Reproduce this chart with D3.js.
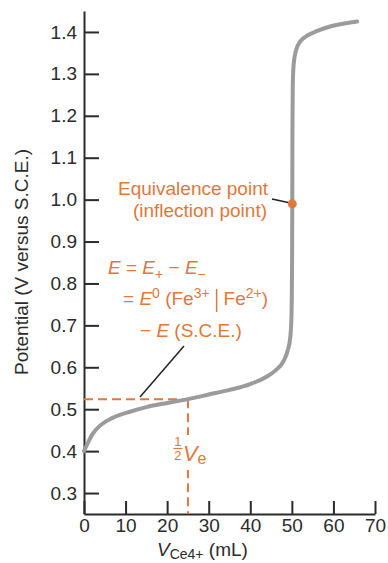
<!DOCTYPE html>
<html>
<head>
<meta charset="utf-8">
<script src="https://cdn.jsdelivr.net/npm/d3@7"></script>
<style>
  body { margin: 0; background: #fff; }
  svg { display: block; font-family: "Liberation Sans", Arial, sans-serif; }
</style>
</head>
<body>
<div id="chart"></div>
<script>
'use strict';

// titration curve: volume of Ce4+ (mL) and potential (V)
let volumes = [0, 1, 2, 4, 7, 11, 15, 20, 25, 30, 35, 40, 44, 46, 48, 49, 49.6, 49.9, 50.05, 50.1, 50.15, 50.22, 50.35, 50.55, 50.85, 51.3, 52, 53.2, 55.1, 59.2, 65.7];
let potentials = [0.40, 0.421, 0.440, 0.462, 0.480, 0.494, 0.505, 0.515, 0.524, 0.535, 0.546, 0.560, 0.578, 0.592, 0.615, 0.640, 0.670, 0.720, 0.85, 1.00, 1.18, 1.270, 1.310, 1.333, 1.350, 1.365, 1.377, 1.388, 1.398, 1.413, 1.425];

let yTicks = [0.3, 0.4, 0.5, 0.6, 0.7, 0.8, 0.9, 1.0, 1.1, 1.2, 1.3, 1.4];
let xTicks = [0, 10, 20, 30, 40, 50, 60, 70];

let equivalencePoint = [50.1, 0.99];
let halfPoint = [25, 0.524];

let width = 388,
    height = 563;
let orange = '#e0783c',
    ink = '#2b2b2b',
    fs = '19px';

let x = d3.scaleLinear().domain([0, 70]).range([84, 375]);
let y = d3.scaleLinear().domain([0.25, 1.45]).range([514, 11]);

let svg = d3.select('#chart')
    .append('svg')
    .attr('width', width)
    .attr('height', height);

// axes
let yAxis = svg.append('g')
    .attr('transform', 'translate(' + x(0) + ',0)')
    .call(d3.axisLeft(y)
        .tickValues(yTicks)
        .tickFormat(d3.format('.1f'))
        .tickSizeInner(-15)
        .tickSizeOuter(0)
        .tickPadding(7));

let xAxis = svg.append('g')
    .attr('transform', 'translate(0,' + y(0.25) + ')')
    .call(d3.axisBottom(x)
        .tickValues(xTicks)
        .tickSizeInner(-13)
        .tickSizeOuter(0)
        .tickPadding(5));

[yAxis, xAxis].forEach(function(a) {
    a.selectAll('path, line')
        .attr('stroke', ink)
        .attr('stroke-width', 2);
    a.selectAll('text')
        .attr('fill', ink)
        .style('font-size', fs);
});

// axis titles
svg.append('text')
    .attr('transform', 'translate(28,262) rotate(-90)')
    .attr('text-anchor', 'middle')
    .attr('fill', ink)
    .style('font-size', fs)
    .text('Potential (V versus S.C.E.)');

let xTitle = svg.append('text')
    .attr('x', 157)
    .attr('y', 556)
    .attr('fill', ink)
    .style('font-size', fs);
xTitle.append('tspan').style('font-style', 'italic').text('V');
xTitle.append('tspan').attr('dy', 3).style('font-size', '14px').text('Ce4+');
xTitle.append('tspan').attr('dy', -3).text(' (mL)');

// dashed guides to the half-equivalence point
svg.append('line')
    .attr('x1', x(0)).attr('y1', y(halfPoint[1]))
    .attr('x2', x(halfPoint[0])).attr('y2', y(halfPoint[1]))
    .attr('stroke', orange)
    .attr('stroke-width', 2)
    .attr('stroke-dasharray', '9,5');
svg.append('line')
    .attr('x1', x(halfPoint[0])).attr('y1', y(halfPoint[1]))
    .attr('x2', x(halfPoint[0])).attr('y2', y(0.25))
    .attr('stroke', orange)
    .attr('stroke-width', 2)
    .attr('stroke-dasharray', '9,5');

// 1/2 Ve label, sitting on a white patch over the dashed line
let hx = x(halfPoint[0]);
svg.append('rect')
    .attr('x', hx - 16).attr('y', 435)
    .attr('width', 36).attr('height', 35)
    .attr('fill', '#fff');
let half = svg.append('g').attr('fill', orange);
half.append('text')
    .attr('x', hx - 10).attr('y', 446)
    .attr('text-anchor', 'middle')
    .style('font-size', '13px')
    .text('1');
half.append('line')
    .attr('x1', hx - 14.5).attr('x2', hx - 5.5)
    .attr('y1', 448.5).attr('y2', 448.5)
    .attr('stroke', orange)
    .attr('stroke-width', 1.2);
half.append('text')
    .attr('x', hx - 10).attr('y', 460)
    .attr('text-anchor', 'middle')
    .style('font-size', '13px')
    .text('2');
let ve = half.append('text')
    .attr('x', hx - 5).attr('y', 461);
ve.append('tspan').style('font-style', 'italic').style('font-size', '22px').text('V');
ve.append('tspan').attr('dy', 3).style('font-size', '16px').text('e');

// the titration curve
let line = d3.line()
    .x(function(d, i) {
        return x(volumes[i]);
    })
    .y(function(d) {
        return y(d);
    })
    .curve(d3.curveMonotoneX);

svg.append('path')
    .datum(potentials)
    .attr('d', line)
    .attr('fill', 'none')
    .attr('stroke', '#9b9b9b')
    .attr('stroke-width', 4)
    .attr('stroke-linecap', 'round');

// equivalence point annotation
svg.append('line')
    .attr('x1', 272).attr('y1', 199)
    .attr('x2', x(equivalencePoint[0]) - 3).attr('y2', y(equivalencePoint[1]) - 1)
    .attr('stroke', '#222')
    .attr('stroke-width', 1.5);
svg.append('circle')
    .attr('cx', x(equivalencePoint[0]))
    .attr('cy', y(equivalencePoint[1]))
    .attr('r', 4.5)
    .attr('fill', orange);

let eqLabel = svg.append('text')
    .attr('text-anchor', 'end')
    .attr('fill', orange)
    .style('font-size', fs);
eqLabel.append('tspan').attr('x', 268).attr('y', 195).text('Equivalence point');
eqLabel.append('tspan').attr('x', 267).attr('y', 217).text('(inflection point)');

// E = E+ - E- block
let eq = svg.append('g')
    .attr('fill', orange)
    .style('font-size', fs);

let l1 = eq.append('text').attr('x', 108).attr('y', 274);
l1.append('tspan').style('font-style', 'italic').text('E');
l1.append('tspan').text(' = ');
l1.append('tspan').style('font-style', 'italic').text('E');
l1.append('tspan').attr('dy', 5).style('font-size', '14px').text('+');
l1.append('tspan').attr('dy', -5).text(' \u2212 ');
l1.append('tspan').style('font-style', 'italic').text('E');
l1.append('tspan').attr('dy', 5).style('font-size', '14px').text('\u2212');

let l2 = eq.append('text').attr('x', 123).attr('y', 305);
l2.append('tspan').text('= ');
l2.append('tspan').style('font-style', 'italic').text('E');
l2.append('tspan').attr('dy', -7).style('font-size', '14px').text('0');
l2.append('tspan').attr('dy', 7).text(' (Fe');
let sup3 = l2.append('tspan').attr('dy', -7).style('font-size', '14px').text('3+');
let fe2 = l2.append('tspan').attr('dy', 7).attr('dx', 14).text('Fe');
l2.append('tspan').attr('dy', -7).style('font-size', '14px').text('2+');
l2.append('tspan').attr('dy', 7).text(')');

// the tall bar between the two couples
let b3 = sup3.node().getBBox(),
    bf = fe2.node().getBBox();
let barX = (b3.x + b3.width + bf.x) / 2;
eq.append('line')
    .attr('x1', barX).attr('x2', barX)
    .attr('y1', 289).attr('y2', 312)
    .attr('stroke', orange)
    .attr('stroke-width', 1.5);

let l3 = eq.append('text').attr('x', 140).attr('y', 337);
l3.append('tspan').text('\u2212 ');
l3.append('tspan').style('font-style', 'italic').text('E');
l3.append('tspan').text(' (S.C.E.)');

svg.append('line')
    .attr('x1', 184).attr('y1', 346)
    .attr('x2', 140).attr('y2', 397)
    .attr('stroke', '#222')
    .attr('stroke-width', 1.5);
</script>
</body>
</html>
